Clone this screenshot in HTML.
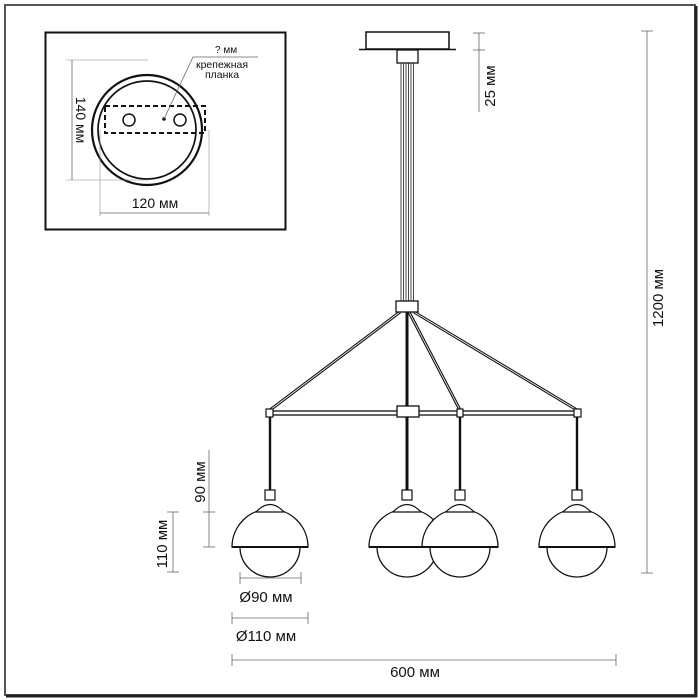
<!DOCTYPE html>
<html><head><meta charset="utf-8"><style>
html,body{margin:0;padding:0;background:#fff;}
svg{display:block;}
text{font-family:"Liberation Sans","DejaVu Sans",sans-serif;fill:#111;}
</style></head><body>
<svg width="700" height="700" viewBox="0 0 700 700" xmlns="http://www.w3.org/2000/svg">
<rect x="0" y="0" width="700" height="700" fill="#fff"/>
<rect x="5" y="5" width="690" height="690" fill="none" stroke="#555" stroke-width="2"/>
<line x1="696" y1="6" x2="696" y2="697" stroke="#222" stroke-width="3"/>
<line x1="6" y1="696" x2="697" y2="696" stroke="#222" stroke-width="3"/>
<rect x="45.5" y="32.5" width="240" height="197" fill="none" stroke="#111" stroke-width="2"/>
<circle cx="147" cy="130" r="55" fill="none" stroke="#111" stroke-width="2.2"/>
<circle cx="147" cy="130" r="49" fill="none" stroke="#111" stroke-width="1.7"/>
<rect x="105" y="106" width="100" height="27" fill="none" stroke="#111" stroke-width="2" stroke-dasharray="5,3"/>
<circle cx="129" cy="120" r="6" fill="none" stroke="#111" stroke-width="1.5"/>
<circle cx="180" cy="120" r="6" fill="none" stroke="#111" stroke-width="1.5"/>
<circle cx="164" cy="119" r="1.8" fill="#111"/>
<polyline points="164,119 193,57 258,57" fill="none" stroke="#666" stroke-width="0.8"/>
<text x="215" y="53" font-size="10">? мм</text>
<text x="222" y="68" font-size="10.5" text-anchor="middle">крепежная</text>
<text x="222" y="78" font-size="10.5" text-anchor="middle">планка</text>
<line x1="72" y1="60" x2="72" y2="180" stroke="#666" stroke-width="0.8"/>
<line x1="66" y1="60" x2="148" y2="60" stroke="#888" stroke-width="0.6"/>
<line x1="66" y1="180" x2="148" y2="180" stroke="#888" stroke-width="0.6"/>
<text transform="translate(76,120) rotate(90)" font-size="14" text-anchor="middle">140 мм</text>
<line x1="100" y1="213" x2="209" y2="213" stroke="#666" stroke-width="0.8"/>
<line x1="100" y1="130" x2="100" y2="216" stroke="#888" stroke-width="0.6"/>
<line x1="209" y1="130" x2="209" y2="216" stroke="#888" stroke-width="0.6"/>
<text x="155" y="208" font-size="14" text-anchor="middle">120 мм</text>

<rect x="366" y="32" width="83" height="17" fill="#fff" stroke="#111" stroke-width="1.5"/>
<line x1="359" y1="49.5" x2="456" y2="49.5" stroke="#111" stroke-width="1.5"/>
<rect x="397" y="50" width="21" height="13" fill="#fff" stroke="#111" stroke-width="1.3"/>
<g stroke="#333" stroke-width="0.9">
<line x1="401" y1="63" x2="401" y2="301"/><line x1="403.5" y1="63" x2="403.5" y2="301"/>
<line x1="406" y1="63" x2="406" y2="301"/><line x1="408.5" y1="63" x2="408.5" y2="301"/>
<line x1="411" y1="63" x2="411" y2="301"/><line x1="413.5" y1="63" x2="413.5" y2="301"/>
</g>
<g stroke="#111" stroke-width="3" fill="none">
<line x1="400" y1="312" x2="270" y2="410"/>
<line x1="414" y1="312" x2="577" y2="410"/>
<line x1="409" y1="312" x2="460" y2="410"/>
<line x1="407" y1="312" x2="407" y2="490"/>
</g>
<g stroke="#fff" stroke-width="0.8" fill="none">
<line x1="400" y1="312" x2="270" y2="410"/>
<line x1="414" y1="312" x2="577" y2="410"/>
<line x1="409" y1="312" x2="460" y2="410"/>
</g>
<rect x="396" y="301" width="22" height="11" fill="#fff" stroke="#111" stroke-width="1.3"/>
<rect x="270" y="411" width="307" height="4" fill="#fff" stroke="#111" stroke-width="1.3"/>
<rect x="397" y="406" width="22" height="11" fill="#fff" stroke="#111" stroke-width="1.3"/>
<rect x="266" y="409" width="7" height="8" fill="#fff" stroke="#111" stroke-width="1.2"/>
<rect x="457" y="409" width="6" height="8" fill="#fff" stroke="#111" stroke-width="1.2"/>
<rect x="574" y="409" width="7" height="8" fill="#fff" stroke="#111" stroke-width="1.2"/>
<g stroke="#111" stroke-width="2.4">
<line x1="270" y1="417" x2="270" y2="490"/>
<line x1="460" y1="417" x2="460" y2="490"/>
<line x1="577" y1="417" x2="577" y2="490"/>
</g>
<defs>
<g id="lamp">
<circle cx="0" cy="547" r="30" fill="#fff" stroke="#111" stroke-width="1.3"/>
<path d="M-38,547 A38,38 0 0 1 38,547 Z" fill="#fff" stroke="#111" stroke-width="1.3"/>
<line x1="-38" y1="547" x2="38" y2="547" stroke="#111" stroke-width="2"/>
<path d="M-14,512 Q0,497 14,512" fill="#fff" stroke="#111" stroke-width="1.2"/>
<line x1="-15" y1="512" x2="15" y2="512" stroke="#111" stroke-width="1.2"/>
<rect x="-5" y="490" width="10" height="10" fill="#fff" stroke="#111" stroke-width="1.2"/>
</g>
</defs>
<use href="#lamp" x="270"/>
<use href="#lamp" x="407"/>
<use href="#lamp" x="460"/>
<use href="#lamp" x="577"/>

<g stroke="#666" stroke-width="0.8">
<line x1="479" y1="33" x2="479" y2="112"/><line x1="473" y1="33" x2="485" y2="33"/><line x1="473" y1="50" x2="485" y2="50"/>
<line x1="647" y1="31" x2="647" y2="573"/><line x1="641" y1="31" x2="653" y2="31"/><line x1="641" y1="573" x2="653" y2="573"/>
<line x1="209" y1="450" x2="209" y2="547"/><line x1="203" y1="512" x2="215" y2="512"/><line x1="203" y1="547" x2="215" y2="547"/>
<line x1="173" y1="512" x2="173" y2="572"/><line x1="167" y1="512" x2="179" y2="512"/><line x1="167" y1="572" x2="179" y2="572"/>
<line x1="240" y1="578" x2="301" y2="578"/><line x1="240" y1="572" x2="240" y2="584"/><line x1="301" y1="572" x2="301" y2="584"/>
<line x1="232" y1="618" x2="308" y2="618"/><line x1="232" y1="612" x2="232" y2="624"/><line x1="308" y1="612" x2="308" y2="624"/>
<line x1="232" y1="660" x2="616" y2="660"/><line x1="232" y1="654" x2="232" y2="666"/><line x1="616" y1="654" x2="616" y2="666"/>
</g>
<text transform="translate(495,86) rotate(-90)" font-size="15" text-anchor="middle">25 мм</text>
<text transform="translate(663,298) rotate(-90)" font-size="15" text-anchor="middle">1200 мм</text>
<text transform="translate(205,482) rotate(-90)" font-size="15" text-anchor="middle">90 мм</text>
<text transform="translate(167,544) rotate(-90)" font-size="15" text-anchor="middle">110 мм</text>
<text x="266" y="602" font-size="15" text-anchor="middle">Ø90 мм</text>
<text x="266" y="641" font-size="15" text-anchor="middle">Ø110 мм</text>
<text x="415" y="677" font-size="15" text-anchor="middle">600 мм</text>
</svg>
</body></html>
